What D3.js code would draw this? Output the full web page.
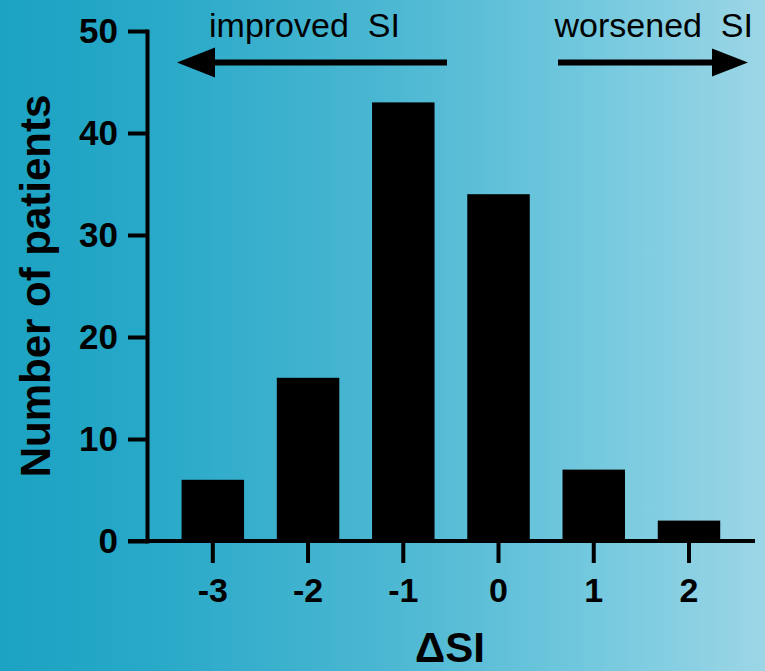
<!DOCTYPE html>
<html>
<head>
<meta charset="utf-8">
<script src="https://cdn.jsdelivr.net/npm/d3@7/dist/d3.min.js"></script>
<style>
  html, body { margin: 0; padding: 0; background: #fff; }
  svg { display: block; }
  text { font-family: "Liberation Sans", Arial, Helvetica, sans-serif; fill: #000; }
</style>
</head>
<body>
<svg id="chart" width="765" height="671"></svg>
<script>
// ---- data ----
const categories = ["-3", "-2", "-1", "0", "1", "2"];
const patients = [6, 16, 43, 34, 7, 2];
const yTicks = [0, 10, 20, 30, 40, 50];
const xTitle = "\u0394SI";
const yTitle = "Number of patients";
const leftNote = "improved  SI";
const rightNote = "worsened  SI";

const W = 765, H = 671;
const svg = d3.select("#chart");

// background gradient
const defs = svg.append("defs");
const grad = defs.append("linearGradient").attr("id", "bg").attr("x1", "0%").attr("x2", "100%").attr("y1", "0%").attr("y2", "0%");
[[0, "#1ca2c3"], [0.2, "#28a9c8"], [0.5, "#4bb7d2"], [0.75, "#6fc7dd"], [1, "#9cd6e6"]]
  .forEach(([o, c]) => grad.append("stop").attr("offset", o).attr("stop-color", c));
svg.append("rect").attr("width", W).attr("height", H).attr("fill", "url(#bg)");

// scales
const x = d3.scaleBand().domain(categories).range([165.2, 736.6]).paddingInner(0.344).paddingOuter(0.172);
const y = d3.scaleLinear().domain([0, 50]).range([541, 31]);
const yAxisX = 147;

// bars
svg.append("g").selectAll("rect").data(patients).join("rect")
  .attr("x", (d, i) => x(categories[i]))
  .attr("y", d => y(d))
  .attr("width", x.bandwidth())
  .attr("height", d => y(0) - y(d))
  .attr("fill", "#000");

// y axis
const yAxis = svg.append("g").attr("transform", `translate(${yAxisX},0)`)
  .call(d3.axisLeft(y).tickValues(yTicks).tickFormat(d3.format("d")).tickSize(19).tickSizeOuter(0).tickPadding(10));
yAxis.select(".domain").attr("stroke", "#000").attr("stroke-width", 4).attr("stroke-linecap", "square");
yAxis.selectAll(".tick line").attr("stroke", "#000").attr("stroke-width", 4);
yAxis.selectAll(".tick text").attr("font-size", 35).attr("font-weight", "bold")
  .attr("font-family", "'Liberation Sans', Arial, sans-serif").attr("fill", "#000");

// x axis
const xAxis = svg.append("g").attr("transform", `translate(0,${y(0)})`)
  .call(d3.axisBottom(x).tickSize(22).tickSizeOuter(0).tickPadding(15));
xAxis.select(".domain").remove();
xAxis.selectAll(".tick line").attr("stroke", "#000").attr("stroke-width", 4);
xAxis.selectAll(".tick text").attr("font-size", 34).attr("font-weight", "bold")
  .attr("font-family", "'Liberation Sans', Arial, sans-serif").attr("fill", "#000");
// baseline
svg.append("line").attr("x1", yAxisX - 19).attr("x2", 755).attr("y1", y(0)).attr("y2", y(0))
  .attr("stroke", "#000").attr("stroke-width", 4);

// titles
svg.append("text").attr("x", 450).attr("y", 662).attr("text-anchor", "middle")
  .attr("font-size", 42).attr("font-weight", "bold").text(xTitle);
svg.append("text").attr("transform", "translate(50,286) rotate(-90)").attr("text-anchor", "middle")
  .attr("font-size", 42).attr("font-weight", "bold").text(yTitle);

// annotations
svg.append("text").attr("x", 209).attr("y", 37).attr("font-size", 34).style("white-space", "pre").text(leftNote);
svg.append("text").attr("x", 753).attr("y", 37).attr("text-anchor", "end").attr("font-size", 34).style("white-space", "pre").text(rightNote);

const arrowY = 62.5;
svg.append("line").attr("x1", 210).attr("x2", 447).attr("y1", arrowY).attr("y2", arrowY).attr("stroke", "#000").attr("stroke-width", 6);
svg.append("path").attr("d", `M177,${arrowY} L215,${arrowY - 15} L215,${arrowY + 15} Z`).attr("fill", "#000");
svg.append("line").attr("x1", 558).attr("x2", 716).attr("y1", arrowY).attr("y2", arrowY).attr("stroke", "#000").attr("stroke-width", 6);
svg.append("path").attr("d", `M748,${arrowY} L712,${arrowY - 14} L712,${arrowY + 14} Z`).attr("fill", "#000");
</script>
</body>
</html>
